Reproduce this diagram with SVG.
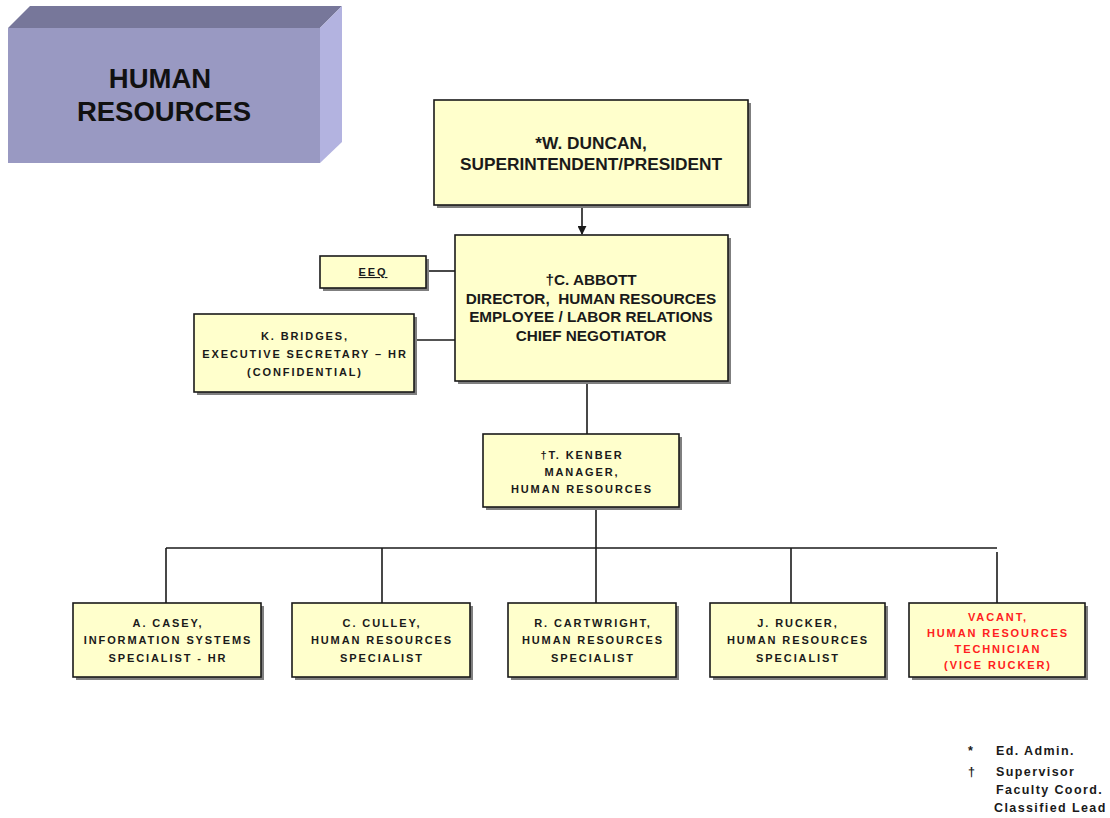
<svg xmlns="http://www.w3.org/2000/svg" width="1110" height="818" viewBox="0 0 1110 818">
<defs>
<style>
.box{fill:#ffffcc;stroke:#1a1a1a;stroke-width:1.6}
.sh{fill:#7f7f7f}
.big{font-family:"Liberation Sans",Arial,sans-serif;font-weight:bold;font-size:17.3px;fill:#1a1a1a;text-anchor:middle}
.mid{font-family:"Liberation Sans",Arial,sans-serif;font-weight:bold;font-size:15.3px;fill:#1a1a1a;text-anchor:middle}
.sm{font-family:"Liberation Sans",Arial,sans-serif;font-weight:bold;font-size:11px;letter-spacing:1.9px;fill:#1a1a1a;text-anchor:middle}
.red{fill:#ff2020}
.leg{font-family:"Liberation Sans",Arial,sans-serif;font-weight:bold;font-size:12.5px;letter-spacing:1.4px;fill:#1a1a1a}
.ln{stroke:#1a1a1a;stroke-width:1.6;fill:none}
</style>
<marker id="arr" viewBox="0 0 10 10" refX="9" refY="5" markerWidth="9" markerHeight="9" orient="auto" markerUnits="userSpaceOnUse">
<path d="M0,0 L10,5 L0,10 z" fill="#1a1a1a"/>
</marker>
</defs>
<rect width="1110" height="818" fill="#ffffff"/>

<g id="title">
<polygon points="8,28 30,6 342,6 320,28" fill="#77779a"/>
<polygon points="320,28 342,6 342,142 320,163" fill="#b3b3e0"/>
<rect x="8" y="28" width="312" height="135" fill="#9999c2"/>
<text x="160" y="88" font-family="Liberation Sans,Arial,sans-serif" font-weight="bold" font-size="27.5" fill="#111" text-anchor="middle">HUMAN</text>
<text x="164" y="121" font-family="Liberation Sans,Arial,sans-serif" font-weight="bold" font-size="27.5" fill="#111" text-anchor="middle">RESOURCES</text>
</g>

<g id="connectors">
<line class="ln" x1="582" y1="205" x2="582" y2="234" marker-end="url(#arr)"/>
<line class="ln" x1="426" y1="271" x2="455" y2="271"/>
<line class="ln" x1="414" y1="340" x2="455" y2="340"/>
<line class="ln" x1="587" y1="381" x2="587" y2="434"/>
<line class="ln" x1="596" y1="507" x2="596" y2="603"/>
<line class="ln" x1="166" y1="548" x2="997" y2="548"/>
<line class="ln" x1="166" y1="548" x2="166" y2="603"/>
<line class="ln" x1="382" y1="548" x2="382" y2="603"/>
<line class="ln" x1="791" y1="548" x2="791" y2="603"/>
<line class="ln" x1="997" y1="552" x2="997" y2="603"/>
</g>

<g id="duncan">
<rect class="sh" x="437" y="103" width="314" height="105"/>
<rect class="box" x="434" y="100" width="314" height="105"/>
<text class="big" x="591" y="149">*W. DUNCAN,</text>
<text class="big" x="591" y="170">SUPERINTENDENT/PRESIDENT</text>
</g>

<g id="abbott">
<rect class="sh" x="458" y="238" width="273" height="146"/>
<rect class="box" x="455" y="235" width="273" height="146"/>
<text class="mid" x="591" y="285">†C. ABBOTT</text>
<text class="mid" x="591" y="304" xml:space="preserve">DIRECTOR,  HUMAN RESOURCES</text>
<text class="mid" x="591" y="322">EMPLOYEE / LABOR RELATIONS</text>
<text class="mid" x="591" y="341">CHIEF NEGOTIATOR</text>
</g>

<g id="eeo">
<rect class="sh" x="323" y="259" width="106" height="32"/>
<rect class="box" x="320" y="256" width="106" height="32"/>
<text class="sm" x="373" y="276" text-decoration="underline">EEQ</text>
</g>

<g id="bridges">
<rect class="sh" x="197" y="317" width="220" height="78"/>
<rect class="box" x="194" y="314" width="220" height="78"/>
<text class="sm" x="305" y="340">K. BRIDGES,</text>
<text class="sm" x="305" y="358">EXECUTIVE SECRETARY – HR</text>
<text class="sm" x="305" y="376">(CONFIDENTIAL)</text>
</g>

<g id="kenber">
<rect class="sh" x="486" y="437" width="196" height="73"/>
<rect class="box" x="483" y="434" width="196" height="73"/>
<text class="sm" x="582" y="459">†T. KENBER</text>
<text class="sm" x="582" y="476">MANAGER,</text>
<text class="sm" x="582" y="493">HUMAN RESOURCES</text>
</g>

<g id="casey">
<rect class="sh" x="76" y="606" width="188" height="74"/>
<rect class="box" x="73" y="603" width="188" height="74"/>
<text class="sm" x="168" y="627">A. CASEY,</text>
<text class="sm" x="168" y="644">INFORMATION SYSTEMS</text>
<text class="sm" x="168" y="662">SPECIALIST - HR</text>
</g>

<g id="culley">
<rect class="sh" x="295" y="606" width="178" height="74"/>
<rect class="box" x="292" y="603" width="178" height="74"/>
<text class="sm" x="382" y="627">C. CULLEY,</text>
<text class="sm" x="382" y="644">HUMAN RESOURCES</text>
<text class="sm" x="382" y="662">SPECIALIST</text>
</g>

<g id="cartwright">
<rect class="sh" x="511" y="606" width="168" height="74"/>
<rect class="box" x="508" y="603" width="168" height="74"/>
<text class="sm" x="593" y="627">R. CARTWRIGHT,</text>
<text class="sm" x="593" y="644">HUMAN RESOURCES</text>
<text class="sm" x="593" y="662">SPECIALIST</text>
</g>

<g id="rucker">
<rect class="sh" x="713" y="606" width="175" height="74"/>
<rect class="box" x="710" y="603" width="175" height="74"/>
<text class="sm" x="798" y="627">J. RUCKER,</text>
<text class="sm" x="798" y="644">HUMAN RESOURCES</text>
<text class="sm" x="798" y="662">SPECIALIST</text>
</g>

<g id="vacant">
<rect class="sh" x="912" y="606" width="176" height="74"/>
<rect class="box" x="909" y="603" width="176" height="74"/>
<text class="sm red" x="998" y="621">VACANT,</text>
<text class="sm red" x="998" y="637">HUMAN RESOURCES</text>
<text class="sm red" x="998" y="653">TECHNICIAN</text>
<text class="sm red" x="998" y="669">(VICE RUCKER)</text>
</g>

<g id="legend">
<text class="leg" x="968" y="755">*</text>
<text class="leg" x="996" y="755">Ed. Admin.</text>
<text class="leg" x="968" y="776">†</text>
<text class="leg" x="996" y="776">Supervisor</text>
<text class="leg" x="996" y="794">Faculty Coord.</text>
<text class="leg" x="994" y="812">Classified Lead</text>
</g>
</svg>
